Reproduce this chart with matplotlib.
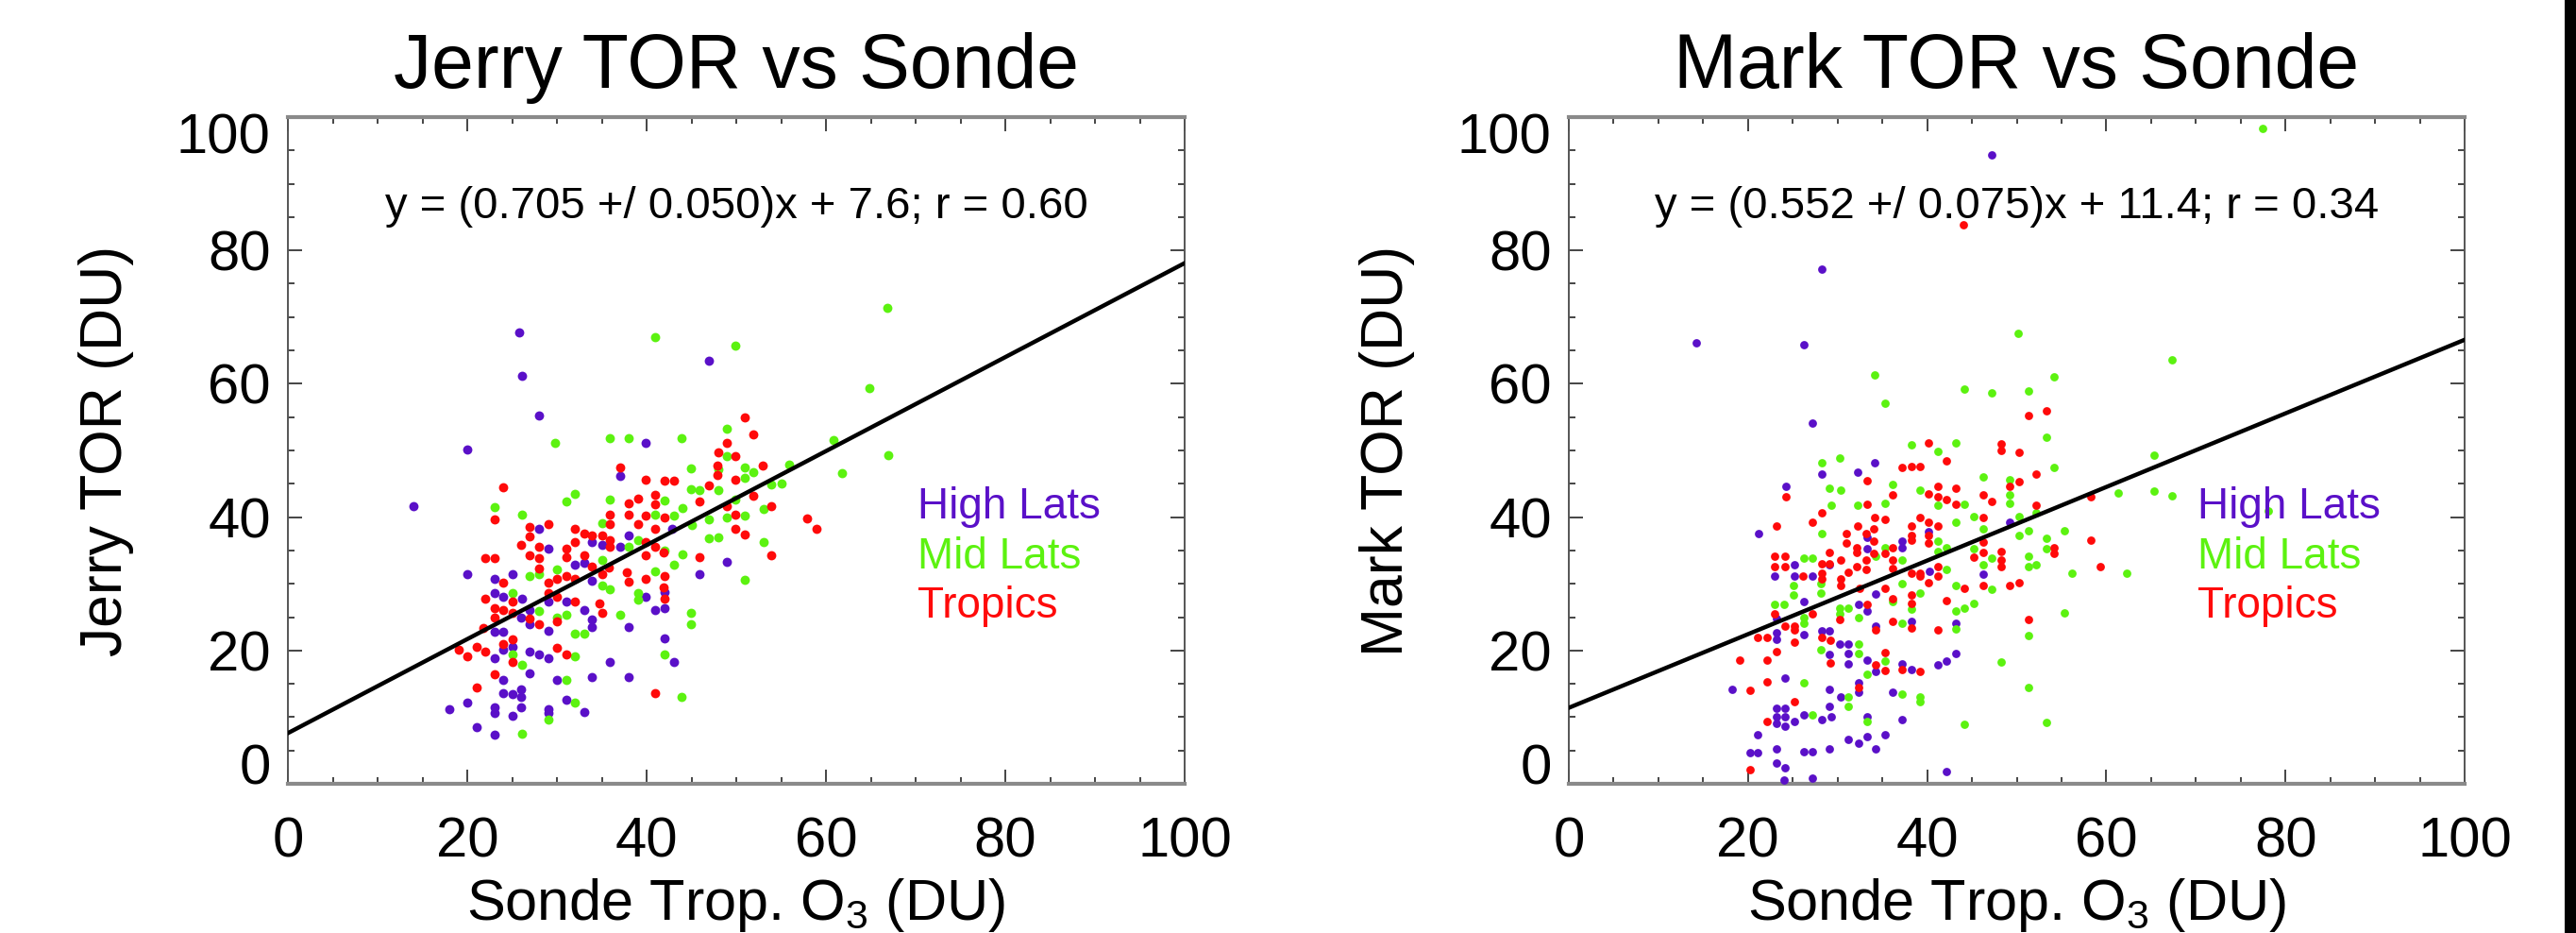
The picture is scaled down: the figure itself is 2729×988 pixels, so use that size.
import numpy as np
import matplotlib
matplotlib.use("Agg")
import matplotlib.pyplot as plt
from matplotlib.ticker import MultipleLocator, FixedLocator
from matplotlib.patches import Rectangle

plt.rcParams['font.family'] = ['Liberation Sans', 'DejaVu Sans']
plt.rcParams['mathtext.fontset'] = 'custom'
plt.rcParams['mathtext.rm'] = 'Liberation Sans'
plt.rcParams['mathtext.default'] = 'regular'

# ---------------- data ----------------
titles = ["Jerry TOR vs Sonde", "Mark TOR vs Sonde"]
ylabels = ["Jerry TOR (DU)", "Mark TOR (DU)"]
xlabel = "Sonde Trop. O$_3$ (DU)"
fit_texts = ["y = (0.705 +/ 0.050)x + 7.6; r = 0.60",
             "y = (0.552 +/ 0.075)x + 11.4; r = 0.34"]
fit_slopes = [0.705, 0.552]
fit_intercepts = [7.6, 11.4]
categories = ["High Lats", "Mid Lats", "Tropics"]
tick_values = [0, 20, 40, 60, 80, 100]

jerry_high = [(25.8,67.7),(46.9,63.5),(26.1,61.2),(28.0,55.3),(39.9,51.2),(20.0,50.1),(37.0,46.2),(14.0,41.6),
              (28.0,38.2),(29.0,35.3),(33.9,36.2),(35.0,35.9),(38.0,37.2),(37.0,35.6),(32.0,32.8),(33.0,33.2),
              (48.9,33.3),(20.0,31.5),(25.0,31.5),(23.0,30.7),(33.9,30.5),(45.9,31.5),(23.0,28.6),(24.0,28.1),
              (26.1,27.8),(31.0,27.4),(29.0,27.4),(39.9,28.1),(42.0,28.8),(26.9,26.1),(26.0,24.9),(33.0,26.1),
              (40.9,26.1),(42.0,26.4),(38.0,23.5),(23.0,22.8),(24.0,22.8),(26.9,23.9),(29.0,23.0),(33.9,24.6),
              (33.9,23.5),(42.0,21.8),(23.0,18.8),(24.0,20.1),(25.0,20.6),(26.9,19.8),(28.0,19.4),(29.0,18.8),
              (43.0,18.3),(35.9,18.3),(26.9,16.6),(24.0,15.6),(30.0,15.6),(33.9,16.0),(38.0,16.0),(24.0,13.6),
              (25.0,13.4),(26.0,14.1),(26.0,13.0),(18.0,11.2),(20.0,12.2),(23.0,11.5),(23.0,10.6),(25.0,10.2),
              (26.0,11.5),(29.0,11.2),(29.0,10.6),(31.0,12.6),(33.0,10.8),(21.0,8.5),(23.0,7.4),(42.8,38.2)]

jerry_mid = [(66.8,71.4),(40.9,67.0),(49.9,65.7),(64.8,59.4),(48.9,53.2),(29.8,51.1),(35.9,51.9),(38.0,51.9),
             (43.9,51.9),(60.8,51.5),(48.9,49.2),(66.9,49.3),(44.9,47.3),(50.9,47.5),(48.0,47.1),(51.9,46.8),
             (55.9,47.9),(61.8,46.6),(50.9,45.9),(53.9,44.9),(55.0,45.1),(44.9,44.2),(45.9,44.1),(48.0,44.1),
             (32.0,43.5),(31.0,42.4),(35.9,42.6),(42.0,42.5),(49.9,42.6),(44.0,41.4),(53.0,41.2),(23.0,41.5),
             (26.1,40.3),(40.9,40.3),(43.0,40.2),(46.9,39.7),(48.9,39.9),(50.9,40.2),(35.0,39.1),(45.0,38.8),
             (46.9,36.8),(48.0,36.9),(38.0,35.5),(39.0,36.5),(42.0,35.0),(53.0,36.2),(44.0,34.4),(43.0,32.8),
             (30.0,32.2),(35.0,33.5),(26.9,31.2),(28.0,31.4),(40.9,31.9),(50.9,30.6),(35.0,29.8),(35.9,29.2),
             (25.0,28.6),(39.0,28.6),(39.0,27.6),(28.0,25.9),(37.0,25.3),(44.9,25.7),(44.9,23.9),(30.0,24.9),
             (31.0,25.3),(32.0,22.5),(33.0,22.5),(25.0,19.4),(32.0,19.1),(42.0,19.4),(26.1,17.9),(31.0,15.6),
             (43.9,13.0),(29.0,9.6),(32.0,12.2),(26.1,7.5)]

jerry_trop = [(50.9,54.9),(51.9,52.4),(48.9,51.2),(48.0,49.7),(49.9,49.1),(47.9,47.8),(47.9,46.3),(37.0,47.4),
              (52.9,47.7),(39.9,45.6),(42.0,45.4),(43.0,45.4),(49.9,45.6),(24.0,44.5),(46.9,44.7),(39.0,42.8),
              (40.9,43.3),(45.9,42.3),(51.9,43.2),(38.0,42.0),(40.9,41.9),(53.9,41.6),(48.9,41.6),(23.0,39.7),
              (35.9,40.3),(38.0,40.3),(39.9,40.2),(42.0,40.0),(49.9,40.4),(57.9,39.8),(58.9,38.3),(26.9,38.5),
              (29.0,38.9),(35.9,39.0),(39.0,39.0),(40.9,38.2),(49.9,38.2),(50.9,37.4),(26.0,35.9),(26.9,37.1),
              (28.0,35.6),(32.0,38.3),(33.0,37.5),(33.9,37.2),(35.0,37.2),(35.9,36.6),(35.9,35.6),(39.9,36.3),
              (40.9,35.6),(39.9,34.3),(41.9,34.7),(45.9,34.0),(53.9,34.3),(22.0,33.8),(23.0,33.8),(26.9,34.3),
              (28.0,33.8),(31.0,35.3),(32.0,36.3),(31.0,34.0),(33.0,34.3),(33.9,32.6),(28.0,32.3),(35.0,31.4),
              (35.8,32.5),(37.8,31.7),(24.0,30.2),(29.0,30.2),(30.0,30.7),(31.0,31.2),(32.0,30.7),(38.0,30.3),
              (39.9,30.7),(42.0,31.2),(41.9,29.4),(22.0,27.8),(25.0,27.4),(29.0,28.6),(30.0,28.1),(32.0,27.4),
              (42.0,27.8),(34.7,27.0),(23.0,26.4),(24.0,26.1),(23.0,24.9),(25.0,25.7),(26.9,24.8),(35.0,25.7),
              (21.8,23.4),(28.0,23.9),(30.0,24.3),(19.0,20.1),(20.0,19.1),(21.0,20.6),(22.0,19.8),(24.0,21.0),
              (25.0,21.7),(25.0,18.3),(30.0,20.4),(31.0,19.4),(23.0,16.5),(21.0,14.4),(40.9,13.6)]

mark_high = [(47.2,94.4),(28.2,77.2),(14.2,66.1),(26.2,65.8),(27.2,54.1),(34.1,48.1),(28.2,46.4),(32.2,46.8),
             (24.2,44.6),(21.2,37.6),(33.3,36.9),(33.3,35.2),(25.2,32.8),(25.2,31.2),(23.0,31.2),(27.2,31.2),
             (29.1,32.8),(26.2,27.4),(23.2,24.8),(34.2,23.6),(32.3,26.9),(33.3,25.9),(23.2,22.7),(23.2,21.7),
             (26.2,22.4),(28.2,22.9),(29.1,22.9),(30.2,21.0),(29.1,19.4),(31.2,21.0),(31.2,19.6),(31.2,18.0),
             (33.3,18.6),(18.2,14.1),(24.1,15.8),(29.1,14.2),(30.3,13.0),(32.3,15.1),(32.3,13.7),(23.2,11.3),
             (24.1,11.3),(23.2,10.1),(24.1,10.1),(23.2,9.0),(24.1,8.7),(25.2,9.4),(26.2,10.4),(28.2,9.7),
             (29.1,11.6),(29.3,10.1),(33.3,10.1),(21.1,7.3),(20.2,4.7),(21.1,4.7),(23.2,5.2),(26.2,4.8),
             (27.2,4.8),(29.1,5.2),(31.2,6.6),(32.3,6.1),(33.3,7.1),(34.2,5.2),(23.2,3.1),(24.1,2.4),
             (24.0,0.5),(27.2,0.9),(49.2,39.3),(40.2,37.8),(37.2,36.4),(37.2,35.4),(40.3,31.9),(46.3,31.5),
             (34.2,28.4),(38.2,24.3),(43.2,24.1),(43.2,19.6),(34.2,16.8),(37.2,18.0),(38.2,17.1),(41.2,17.8),
             (42.2,18.4),(36.1,13.8),(37.2,9.7),(35.3,7.4),(42.2,1.9)]

mark_mid = [(77.4,98.3),(50.2,67.5),(67.3,63.6),(34.1,61.4),(54.2,61.1),(35.3,57.1),(44.2,59.2),(47.2,58.7),
            (51.3,58.9),(53.3,52.0),(30.2,48.9),(28.2,48.2),(38.3,50.9),(43.2,51.1),(41.2,49.9),(65.3,49.3),
            (54.2,47.4),(46.3,46.1),(29.1,44.4),(30.3,44.0),(36.1,44.9),(39.2,44.0),(49.2,45.6),(49.2,43.4),
            (49.2,42.0),(61.3,43.6),(65.3,43.9),(67.3,43.2),(78.1,40.9),(29.3,41.8),(32.2,41.8),(41.2,41.8),
            (44.2,41.9),(35.3,42.0),(28.2,37.5),(43.2,39.3),(45.2,40.1),(46.3,38.2),(50.3,40.1),(51.3,37.9),
            (50.3,37.3),(52.2,40.6),(55.3,38.0),(34.2,34.2),(26.2,33.8),(27.2,33.8),(35.3,35.4),(41.2,36.4),
            (41.2,34.9),(42.2,35.4),(45.2,35.2),(47.2,33.8),(46.3,32.8),(51.3,34.2),(51.3,32.6),(52.2,32.8),
            (53.3,36.8),(53.3,35.2),(56.2,31.6),(62.3,31.6),(37.2,33.5),(25.1,29.7),(25.1,28.3),(28.1,30.0),
            (28.1,28.6),(42.2,32.2),(37.2,30.0),(43.2,29.7),(47.2,29.2),(39.2,28.6),(23.0,26.9),(24.0,26.9),
            (36.1,27.3),(26.2,25.0),(26.2,24.1),(30.2,26.4),(31.2,26.4),(30.2,25.5),(32.3,25.0),(43.2,25.9),
            (44.2,26.4),(45.2,27.1),(38.2,26.2),(55.3,25.7),(37.2,24.1),(43.2,23.2),(51.3,22.3),(28.1,20.1),
            (32.3,21.0),(32.3,19.6),(33.3,16.5),(35.3,18.4),(48.3,18.3),(26.2,15.2),(31.2,13.0),(31.2,11.6),
            (27.2,10.4),(33.3,9.4),(51.3,14.5),(37.2,13.4),(39.2,13.0),(39.2,12.3),(44.2,8.9),(53.3,9.2)]

mark_trop = [(44.0,83.8),(51.3,55.3),(53.3,55.9),(40.2,51.1),(48.3,51.0),(48.3,50.0),(50.3,49.7),(42.2,48.4),
             (37.2,47.5),(38.2,47.6),(39.2,47.6),(52.2,46.4),(33.3,45.5),(24.2,43.1),(36.1,43.3),(40.2,43.5),
             (41.2,44.6),(41.2,43.0),(42.2,42.6),(43.2,41.9),(43.2,44.3),(46.3,43.3),(47.2,42.3),(49.2,44.6),
             (50.3,45.3),(52.2,41.8),(33.3,41.9),(28.2,40.6),(23.2,38.6),(27.2,39.2),(31.0,37.5),(31.0,36.1),
             (32.2,38.7),(34.1,39.9),(33.2,37.6),(35.3,39.7),(39.2,40.0),(46.3,39.9),(38.2,38.7),(38.2,37.3),
             (38.2,36.6),(40.2,39.2),(40.2,37.3),(40.2,36.1),(41.2,38.7),(34.0,38.2),(34.0,36.4),(34.0,34.5),
             (35.3,34.5),(36.1,35.4),(46.3,36.3),(46.3,34.7),(45.2,34.0),(48.3,34.9),(48.3,33.5),(48.3,32.6),
             (54.2,35.4),(54.2,34.5),(32.1,35.4),(32.1,34.7),(23.0,34.2),(24.1,34.2),(23.0,32.6),(24.1,32.6),
             (26.1,31.2),(28.2,33.0),(28.2,31.6),(28.2,30.7),(29.1,34.7),(29.1,33.0),(30.3,33.5),(30.3,30.7),
             (30.3,29.7),(31.2,31.7),(32.1,32.6),(33.2,33.5),(33.2,32.1),(32.5,29.3),(36.1,33.5),(36.1,32.3),
             (38.2,31.6),(39.2,31.6),(39.2,31.1),(40.2,30.2),(41.2,32.6),(41.2,31.2),(35.3,29.3),(44.2,29.3),
             (46.3,29.7),(49.2,29.8),(50.3,30.1),(38.2,28.3),(38.2,27.0),(36.1,27.8),(42.2,27.5),(23.0,25.5),
             (24.1,23.6),(25.2,23.6),(25.2,23.1),(27.2,25.5),(30.2,24.6),(33.3,26.9),(36.1,24.4),(38.2,23.4),
             (34.2,23.1),(41.2,23.1),(51.3,24.6),(21.1,21.9),(22.1,21.9),(25.2,21.3),(28.2,21.9),(29.2,21.5),
             (19.1,18.6),(22.1,18.5),(23.2,19.8),(29.2,18.2),(34.2,17.9),(35.3,19.7),(35.3,17.0),(37.2,17.2),
             (39.2,16.9),(20.2,14.0),(22.1,15.3),(32.3,14.4),(25.2,12.3),(22.1,9.4),(20.2,2.1),(58.3,43.0),
             (58.3,36.5),(59.3,32.6)]

panels = [
    {"high": jerry_high, "mid": jerry_mid, "trop": jerry_trop},
    {"high": mark_high, "mid": mark_mid, "trop": mark_trop},
]

# ---------------- style ----------------
col_high = "#5A10C8"
col_mid = "#5CF210"
col_trop = "#FF0A0A"
cat_colors = [col_high, col_mid, col_trop]

W, H = 2729, 988
fig = plt.figure(figsize=(W / 100, H / 100), dpi=100)
fig.patch.set_facecolor("white")

axes_px = [(305, 124, 1255, 830), (1662, 124, 2611, 830)]
marker_sizes = [50, 40]
tick_fs = 43

for i, (x0, y0, x1, y1) in enumerate(axes_px):
    ax = fig.add_axes([x0 / W, (H - y1) / H, (x1 - x0) / W, (y1 - y0) / H])
    ax.set_xlim(0, 100)
    ax.set_ylim(0, 100)
    d = panels[i]
    for key, c in zip(["high", "mid", "trop"], cat_colors):
        arr = np.array(d[key]).T
        ax.scatter(arr[0], arr[1], s=marker_sizes[i], c=c, linewidths=0, zorder=3)
    xs = np.array([0.0, 100.0])
    ax.plot(xs, fit_intercepts[i] + fit_slopes[i] * xs, color="black", lw=3.2, zorder=4)

    ax.xaxis.set_major_locator(FixedLocator(tick_values))
    ax.yaxis.set_major_locator(FixedLocator(tick_values))
    ax.xaxis.set_minor_locator(MultipleLocator(5))
    ax.yaxis.set_minor_locator(MultipleLocator(5))
    ax.tick_params(which="both", direction="in", top=True, right=True, color="#444444", width=1.4)
    ax.tick_params(which="major", length=11)
    ax.tick_params(which="minor", length=5)
    ax.tick_params(axis="x", which="major", labelsize=tick_fs, pad=25)
    ax.tick_params(axis="y", which="major", labelsize=tick_fs, pad=13)
    ax.set_xticklabels([str(v) for v in tick_values])
    ylab_txt = [str(v) for v in tick_values]
    ylab_txt[-1] = ""
    ax.set_yticklabels(ylab_txt)
    ax.get_yticklabels()[0].set_va("baseline")
    # top y label is drawn just inside the axis end, as in the original
    ax.text(-0.0195, 94.6, str(tick_values[-1]), transform=ax.get_yaxis_transform(),
            ha="right", va="baseline", fontsize=tick_fs)

    for side in ["left", "right"]:
        ax.spines[side].set_color("#555555")
        ax.spines[side].set_linewidth(1.4)
    for side in ["top", "bottom"]:
        ax.spines[side].set_color("#8a8a8a")
        ax.spines[side].set_linewidth(3)

    ax.text(0.5, 1.044, titles[i], transform=ax.transAxes, ha="center", va="baseline", fontsize=58)
    ax.text(-0.203, 0.5, ylabels[i], transform=ax.transAxes, ha="center", va="center",
            rotation=90, fontsize=45)
    ax.text(0.5, -0.204, xlabel, transform=ax.transAxes, ha="center", va="baseline", fontsize=44)
    ax.text(50, 86.5, fit_texts[i], ha="center", va="center", fontsize=34)
    for k, (cat, c) in enumerate(zip(categories, cat_colors)):
        ax.text(70.2, 39.8 - 7.45 * k, cat, color=c, ha="left", va="baseline", fontsize=33)

# black strip at the right edge
fig.patches.append(Rectangle((2717 / W, 0), 12 / W, 1, transform=fig.transFigure,
                             facecolor="black", edgecolor="none"))

fig.savefig("out.png", dpi=100)
